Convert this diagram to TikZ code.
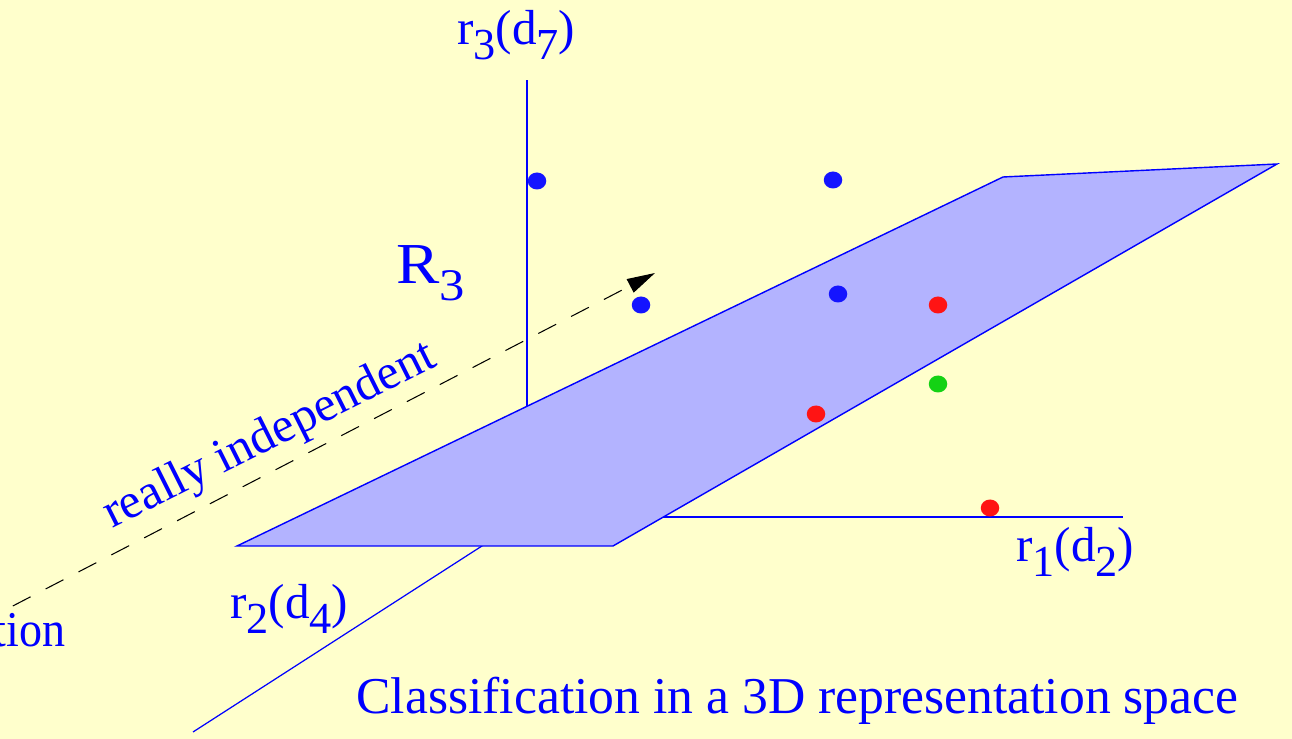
\documentclass[tikz,border=0pt]{standalone}
\usepackage{fontspec}
\setmainfont{Liberation Serif}
\usetikzlibrary{arrows.meta,shapes.geometric}
\definecolor{bgyellow}{RGB}{255,255,204}
\definecolor{planefill}{RGB}{179,179,255}
\definecolor{dotblue}{RGB}{20,20,255}
\definecolor{dotred}{RGB}{255,20,20}
\definecolor{dotgreen}{RGB}{20,210,20}
\newcommand{\lsub}[2]{\raisebox{-0.29em}{\scalebox{#1}{#2}}}
\tikzset{
  axisline/.style={draw=blue, line width=1.2pt},
  thinaxis/.style={draw=blue, line width=0.7pt},
  planestyle/.style={fill=planefill, draw=blue, line width=0.8pt, line join=miter},
  datadot/.style={ellipse, inner sep=0pt, minimum width=0.37cm, minimum height=0.34cm, draw=none},
  lbl/.style={text=blue, inner sep=0pt, font=\fontsize{28}{34}\selectfont},
  dirarrow/.style={draw=black, line width=0.6pt, dash pattern=on 0.4cm off 0.34cm, -{Triangle[length=0.56cm,width=0.30cm]}}
}
\begin{document}
\begin{tikzpicture}[x=0.02cm,y=-0.02cm]
  \fill[bgyellow] (0,0) rectangle (1292,739);
  \useasboundingbox (0,0) rectangle (1292,739);

  % axes
  \coordinate (O) at (527,517);
  \coordinate (r3top) at (527,80);
  \coordinate (r1end) at (1123,517);
  \coordinate (r2end) at (193,732);
  \draw[axisline] (O) -- (r3top);
  \draw[axisline] (O) -- (r1end);
  \draw[thinaxis] (O) -- (r2end);

  % separating plane
  \coordinate (P1) at (237,546);
  \coordinate (P2) at (613,546);
  \coordinate (P3) at (1277,164);
  \coordinate (P4) at (1003,177);
  \draw[planestyle] (P1) -- (P2) -- (P3) -- (P4) -- cycle;

  % data points
  \node[datadot, fill=dotblue] (b1) at (537,181) {};
  \node[datadot, fill=dotblue] (b2) at (833,180) {};
  \node[datadot, fill=dotblue] (b3) at (641,305) {};
  \node[datadot, fill=dotblue] (b4) at (838,294) {};
  \node[datadot, fill=dotred] (c1) at (938,305) {};
  \node[datadot, fill=dotgreen] (g1) at (938,384) {};
  \node[datadot, fill=dotred] (c2) at (816,414) {};
  \node[datadot, fill=dotred] (c3) at (990,508) {};

  % direction arrow
  \coordinate (dstart) at (-20,623);
  \coordinate (dtip) at (655,273);
  \draw[dirarrow] (dstart) -- (dtip);

  % labels
  \node[lbl, anchor=base west] (l3) at (457,45) {r\lsub{0.9}{3}(d\lsub{0.9}{7})};
  \node[lbl, anchor=base west] (l1) at (1016,562) {r\lsub{0.9}{1}(d\lsub{0.9}{2})};
  \node[lbl, anchor=base west] (l2) at (230,619) {r\lsub{0.9}{2}(d\lsub{0.9}{4})};
  \node[lbl, anchor=base west, font=\fontsize{33}{40}\selectfont] (R3) at (396,284) {\scalebox{1.12}[1]{R\lsub{0.78}{3}}};
  \node[lbl, anchor=base west, rotate=26.6, font=\fontsize{28}{34}\selectfont] (ri) at (112,529) {really independent};
  \node[lbl, anchor=base east, font=\fontsize{28.5}{34}\selectfont] (tion) at (66,646) {\scalebox{0.92}[1]{tion}};
  \node[lbl, anchor=base west, font=\fontsize{29.4}{35}\selectfont] (cap) at (356,713) {Classification in a 3D representation space};
\end{tikzpicture}
\end{document}
